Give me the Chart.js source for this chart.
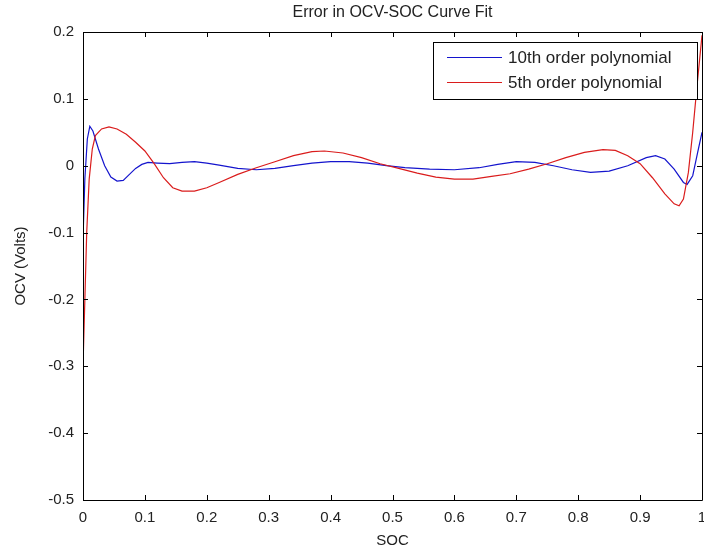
<!DOCTYPE html>
<html>
<head>
<meta charset="utf-8">
<script src="https://cdn.jsdelivr.net/npm/chart.js@4"></script>
<style>
  html, body { margin: 0; padding: 0; background: #fff; }
  #wrap { width: 704px; height: 554px; }
</style>
</head>
<body>
<div id="wrap"><canvas id="fitChart" width="704" height="554"></canvas></div>
<script>
// values
const socTen = [0, 0.003, 0.007, 0.011, 0.016, 0.025, 0.035, 0.045, 0.055, 0.065, 0.075, 0.085, 0.095, 0.105, 0.12, 0.14, 0.16, 0.18, 0.2, 0.22, 0.25, 0.28, 0.31, 0.34, 0.37, 0.4, 0.43, 0.46, 0.49, 0.52, 0.56, 0.6, 0.64, 0.67, 0.7, 0.73, 0.76, 0.79, 0.82, 0.85, 0.88, 0.91, 0.925, 0.94, 0.955, 0.97, 0.976, 0.985, 0.993, 1.0];
const errTen = [-0.11, -0.02, 0.04, 0.059, 0.052, 0.025, 0.0, -0.017, -0.023, -0.022, -0.013, -0.004, 0.002, 0.005, 0.004, 0.003, 0.005, 0.006, 0.004, 0.001, -0.004, -0.006, -0.004, 0.0, 0.004, 0.006, 0.006, 0.004, 0.0, -0.003, -0.005, -0.006, -0.003, 0.002, 0.006, 0.005, 0.0, -0.006, -0.01, -0.008, 0.0, 0.012, 0.015, 0.01, -0.005, -0.025, -0.028, -0.015, 0.02, 0.05];

const socFive = [0, 0.003, 0.006, 0.01, 0.015, 0.02, 0.03, 0.042, 0.055, 0.07, 0.085, 0.1, 0.115, 0.13, 0.145, 0.16, 0.18, 0.2, 0.22, 0.25, 0.28, 0.31, 0.34, 0.37, 0.39, 0.42, 0.45, 0.48, 0.51, 0.54, 0.57, 0.6, 0.63, 0.66, 0.69, 0.72, 0.75, 0.78, 0.81, 0.84, 0.86, 0.88, 0.9, 0.92, 0.94, 0.955, 0.963, 0.97, 0.978, 0.985, 0.992, 1.0];
const errFive = [-0.3, -0.2, -0.1, -0.02, 0.025, 0.045, 0.055, 0.058, 0.055, 0.047, 0.035, 0.022, 0.003, -0.018, -0.033, -0.038, -0.038, -0.033, -0.025, -0.013, -0.003, 0.006, 0.015, 0.021, 0.022, 0.019, 0.012, 0.003, -0.004, -0.011, -0.017, -0.02, -0.02, -0.016, -0.012, -0.005, 0.003, 0.012, 0.02, 0.024, 0.023, 0.015, 0.003, -0.018, -0.042, -0.057, -0.06, -0.05, -0.01, 0.05, 0.12, 0.195];

const seriesNames = ['10th order polynomial', '5th order polynomial'];
const xTicks = [0, 0.1, 0.2, 0.3, 0.4, 0.5, 0.6, 0.7, 0.8, 0.9, 1];
const yTicks = [-0.5, -0.4, -0.3, -0.2, -0.1, 0, 0.1, 0.2];
const titleText = 'Error in OCV-SOC Curve Fit';

const blue = 'rgb(20, 20, 205)';
const red = 'rgb(218, 28, 28)';
const font = '"Liberation Sans", Arial, sans-serif';

function fmt(v) {
    return String(Number(v.toFixed(1)));
}

// matlab style box: frame, inward ticks, title, legend
const matlabBox = {
    id: 'matlabBox',
    afterDatasetsDraw(chart) {
        const ctx = chart.ctx;
        const a = chart.chartArea;
        const xs = chart.scales.x;
        const ys = chart.scales.y;
        ctx.save();
        ctx.strokeStyle = '#000';
        ctx.lineWidth = 1;
        ctx.beginPath();
        ctx.rect(Math.round(a.left) + 0.5, Math.round(a.top) + 0.5, Math.round(a.right - a.left), Math.round(a.bottom - a.top));
        ctx.stroke();

        const tl = 5;
        ctx.beginPath();
        xTicks.forEach(v => {
            const px = Math.round(xs.getPixelForValue(v)) + 0.5;
            ctx.moveTo(px, a.bottom);
            ctx.lineTo(px, a.bottom - tl);
            ctx.moveTo(px, a.top);
            ctx.lineTo(px, a.top + tl);
        });
        yTicks.forEach(v => {
            const py = Math.round(ys.getPixelForValue(v)) + 0.5;
            ctx.moveTo(a.left, py);
            ctx.lineTo(a.left + tl, py);
            ctx.moveTo(a.right, py);
            ctx.lineTo(a.right - tl, py);
        });
        ctx.stroke();

        // title centred over the plot area
        ctx.fillStyle = '#222';
        ctx.font = '16px ' + font;
        ctx.textAlign = 'center';
        ctx.textBaseline = 'middle';
        ctx.fillText(titleText, (a.left + a.right) / 2, 13);

        // legend box
        const bx = a.right - 269, by = a.top + 10, bw = 264, bh = 57;
        ctx.fillStyle = '#fff';
        ctx.fillRect(bx, by, bw, bh);
        ctx.strokeRect(Math.round(bx) + 0.5, Math.round(by) + 0.5, bw, bh);
        ctx.font = '17px ' + font;
        ctx.textAlign = 'left';
        [blue, red].forEach((c, i) => {
            const ly = by + 15.5 + i * 25;
            ctx.strokeStyle = c;
            ctx.beginPath();
            ctx.moveTo(bx + 14, ly);
            ctx.lineTo(bx + 69, ly);
            ctx.stroke();
            ctx.fillStyle = '#222';
            ctx.fillText(seriesNames[i], bx + 75, ly + 1);
        });
        ctx.restore();
    }
};

const canvas = document.querySelector('#fitChart');
new Chart(canvas, {
    type: 'line',
    data: {
        datasets: [
            {
                label: seriesNames[1],
                data: socFive.map((x, i) => ({ x: x, y: errFive[i] })),
                borderColor: red,
                borderWidth: 1.2,
                pointRadius: 0,
                tension: 0,
                order: 0,
            },
            {
                label: seriesNames[0],
                data: socTen.map((x, i) => ({ x: x, y: errTen[i] })),
                borderColor: blue,
                borderWidth: 1.2,
                pointRadius: 0,
                tension: 0,
                order: 1,
            },
        ],
    },
    plugins: [matlabBox],
    options: {
        responsive: false,
        animation: false,
        layout: {
            autoPadding: false,
            padding: { top: 32, right: 2, left: 12, bottom: 0 },
        },
        plugins: {
            legend: { display: false },
            title: { display: false },
            tooltip: { enabled: false },
        },
        scales: {
            x: {
                type: 'linear',
                min: 0,
                max: 1,
                border: { display: false },
                grid: { display: false, drawTicks: false },
                afterBuildTicks(scale) {
                    scale.ticks = xTicks.map(v => ({ value: v }));
                },
                afterFit(scale) {
                    scale.height = 54;
                    scale.paddingLeft = 0;
                    scale.paddingRight = 0;
                },
                ticks: {
                    padding: 9,
                    color: '#222',
                    font: { family: font, size: 15 },
                    maxRotation: 0,
                    callback: v => fmt(v),
                },
                title: {
                    display: true,
                    text: 'SOC',
                    color: '#222',
                    font: { family: font, size: 15 },
                    padding: { top: 0, bottom: 4 },
                },
            },
            y: {
                type: 'linear',
                min: -0.5,
                max: 0.2,
                border: { display: false },
                grid: { display: false, drawTicks: false },
                afterBuildTicks(scale) {
                    scale.ticks = yTicks.map(v => ({ value: v }));
                },
                afterFit(scale) {
                    scale.width = 71;
                    scale.paddingTop = 0;
                    scale.paddingBottom = 0;
                },
                ticks: {
                    padding: 9,
                    color: '#222',
                    font: { family: font, size: 15 },
                    callback: v => fmt(v),
                },
                title: {
                    display: true,
                    text: 'OCV (Volts)',
                    color: '#222',
                    font: { family: font, size: 15 },
                    padding: { top: 0, bottom: 4 },
                },
            },
        },
    },
});
</script>
</body>
</html>
